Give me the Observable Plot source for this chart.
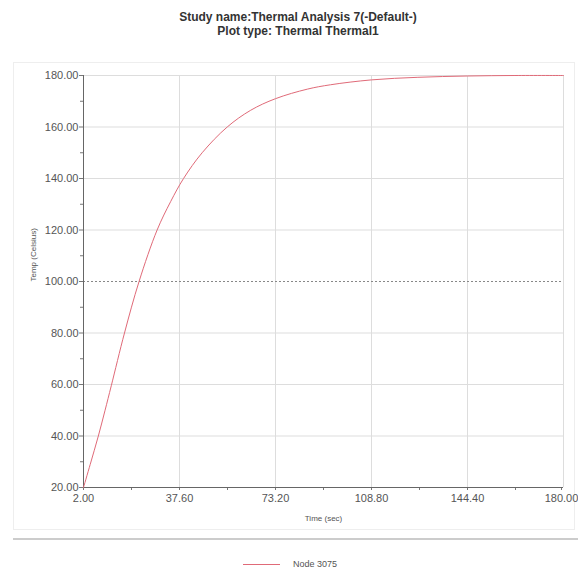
<!DOCTYPE html>
<html>
<head>
<meta charset="utf-8">
<script src="https://cdn.jsdelivr.net/npm/d3@7"></script>
<script src="https://cdn.jsdelivr.net/npm/@observablehq/plot@0.6"></script>
<style>
  body { margin: 0; background: #fff; font-family: "Liberation Sans", Arial, sans-serif; }
  #wrap { position: relative; width: 578px; height: 572px; overflow: hidden; }
  #title { position: absolute; left: 0; top: 10px; width: 596px; text-align: center; font-weight: bold; font-size: 12px; line-height: 14px; color: #333; }
  #frame { position: absolute; left: 13px; top: 62px; width: 562px; height: 468px; border: 1px solid #eee; box-sizing: border-box; }
  #sep { position: absolute; left: 13px; right: 0; top: 538px; height: 2px; background: #ccc; }
  #chart { position: absolute; left: 0; top: 0; }
  #legend { position: absolute; left: 243px; top: 559px; font-size: 9px; color: #555; display: flex; align-items: center; }
  #legend .sw { width: 37px; height: 0; border-top: 1px solid #e06a78; margin-right: 13px; }
</style>
</head>
<body>
<div id="wrap">
  <div id="frame"></div>
  <div id="sep"></div>
  <div id="chart"></div>
  <div id="title">Study name:Thermal Analysis 7(-Default-)<br>Plot type: Thermal Thermal1</div>
  <div id="legend"><div class="sw"></div><span>Node 3075</span></div>
</div>
<script>
const seriesName = "Node 3075";
const timeSec = [2, 4.5, 7.5, 10, 12.3, 17.2, 22.6, 29.3, 34.3, 39.1, 46, 55.3, 64, 73.2, 85, 93.6, 108.8, 126, 144.4, 162, 180];
const tempC   = [20, 29, 40, 50, 59.5, 80, 100, 120, 131, 140, 150, 160, 166.5, 171, 174.7, 176.4, 178.3, 179.3, 179.8, 180, 180];
const xTicks = [2, 37.6, 73.2, 108.8, 144.4, 180];
const xMinor = [19.8, 55.4, 91, 126.6, 162.2];
const yTicks = [20, 40, 60, 80, 100, 120, 140, 160, 180];
const yMinor = [30, 50, 70, 90, 110, 130, 150, 170];

const data = timeSec.map((t, i) => ({t, v: tempC[i]}));
const fmt = d => d.toFixed(2);

const chart = Plot.plot({
  width: 578,
  height: 572,
  marginLeft: 83,
  marginRight: 15,
  marginTop: 75,
  marginBottom: 85,
  style: {fontFamily: "'Liberation Sans', Arial, sans-serif", background: "transparent", color: "#555"},
  x: {domain: [2, 180]},
  y: {domain: [20, 180]},
  marks: [
    Plot.gridX(xTicks.filter(d => d !== 2), {stroke: "#ddd", strokeOpacity: 1}),
    Plot.gridY(yTicks.filter(d => d !== 20 && d !== 100), {stroke: "#ddd", strokeOpacity: 1}),
    Plot.ruleY([100], {stroke: "#888", strokeDasharray: "2,2"}),
    Plot.axisY(yTicks, {tickFormat: fmt, tickSize: 4, tickPadding: 1, fontSize: 11, fill: "#555", stroke: "#777", label: null}),
    Plot.axisY(yMinor, {tickFormat: () => "", tickSize: 3, stroke: "#777", label: null}),
    Plot.axisX(xTicks.slice(0, -1), {tickFormat: fmt, tickSize: 3, tickPadding: 4, fontSize: 11, fill: "#555", stroke: "#777", label: null}),
    Plot.axisX(xTicks.slice(-1), {tickFormat: fmt, tickSize: 3, tickPadding: 4, fontSize: 11, fill: "#555", stroke: "#777", label: null, dx: -2}),
    Plot.axisX(xMinor, {tickFormat: () => "", tickSize: 3, stroke: "#777", label: null}),
    Plot.ruleX([2], {stroke: "#666"}),
    Plot.ruleY([20], {stroke: "#666"}),
    Plot.line(data, {x: "t", y: "v", stroke: "#e06a78", strokeWidth: 1, curve: "catmull-rom"}),
    Plot.text(["Temp (Celsius)"], {frameAnchor: "left", dx: -50, rotate: -90, fontSize: 8, fill: "#555"}),
    Plot.text(["Time (sec)"], {frameAnchor: "bottom", dy: 33, fontSize: 8, fill: "#555"})
  ]
});
document.getElementById("chart").appendChild(chart);
</script>
</body>
</html>
